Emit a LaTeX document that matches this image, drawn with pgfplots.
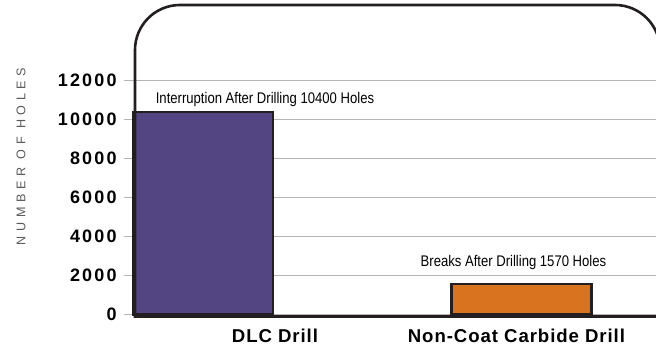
\documentclass[border=0pt]{standalone}
\usepackage{fontspec}
\setmainfont{Liberation Sans}
\newfontfamily\tickfont{Liberation Sans}[LetterSpace=12]
\newfontfamily\catfont{Liberation Sans}[LetterSpace=5]
\newfontfamily\annfont{Liberation Sans}[FakeStretch=0.85]
\newfontfamily\ylabfont{Liberation Sans}[LetterSpace=37]
\usepackage{pgfplots}
\pgfplotsset{compat=1.18}
\definecolor{dlcpurple}{HTML}{534581}
\definecolor{ncorange}{HTML}{D9731F}
\definecolor{framecol}{HTML}{231F20}
\definecolor{gridcol}{HTML}{B4B4B4}
\begin{document}
\begin{tikzpicture}
\begin{axis}[
  at={(67.5pt,16.75pt)}, anchor=south west,
  scale only axis,
  width=260.5pt, height=154.5pt,
  xmin=-0.568, xmax=1.546,
  ymin=0, ymax=15850,
  ybar, bar width=70pt,
  axis line style={draw=none},
  xtick={0,1},
  xticklabels={DLC Drill, Non-Coat Carbide Drill\hspace*{5pt}},
  xtick style={draw=none},
  ytick={0,2000,4000,6000,8000,10000,12000},
  ymajorgrids,
  grid style={gridcol, line width=0.6pt},
  ytick style={gridcol, line width=0.6pt},
  ytick pos=left,
  tick align=outside,
  major tick length=5.5pt,
  /pgf/number format/assume math mode=true,
  scaled y ticks=false,
  yticklabel={\pgfmathprintnumber[fixed,1000 sep={}]{\tick}},
  yticklabel style={font=\tickfont\bfseries\fontsize{9}{10}\selectfont, anchor=east, inner sep=0pt, xshift=-3.5pt},
  xticklabel style={font=\catfont\bfseries\fontsize{9.3}{11}\selectfont, anchor=base, inner sep=0pt, yshift=-8.5pt},
  clip=false,
]
\addplot[fill=dlcpurple, draw=framecol, line width=1.2pt] coordinates {(0,10400)};
\addplot[fill=ncorange, draw=framecol, line width=1.2pt, bar shift=0pt] coordinates {(1,1570)};
\node[anchor=base, inner sep=0pt, xshift=-5pt, yshift=4.35pt, font=\annfont\fontsize{7.7}{9}\selectfont] at (axis cs:0,10400) {Interruption After Drilling 10400 Holes};
\node[anchor=base, inner sep=0pt, xshift=-4pt, yshift=8.8pt, font=\annfont\fontsize{7.7}{9}\selectfont] at (axis cs:1,1570) {Breaks After Drilling 1570 Holes};
\end{axis}
\draw[framecol, line width=1.3pt] (331pt,15.75pt) -- (67.5pt,15.75pt) -- (67.5pt,149pt) arc[start angle=180, end angle=90, radius=22.5pt] -- (307.5pt,171.5pt) arc[start angle=90, end angle=0, radius=22.5pt] -- (330pt,130pt);
\node[rotate=90, font=\ylabfont\fontsize{6.3}{7}\selectfont, text=black!65, inner sep=0pt] at (10.5pt,95.75pt) {NUMBER OF HOLES};
\pgfresetboundingbox
\path[use as bounding box] (0,0) rectangle (328pt,174pt);
\end{tikzpicture}
\end{document}
